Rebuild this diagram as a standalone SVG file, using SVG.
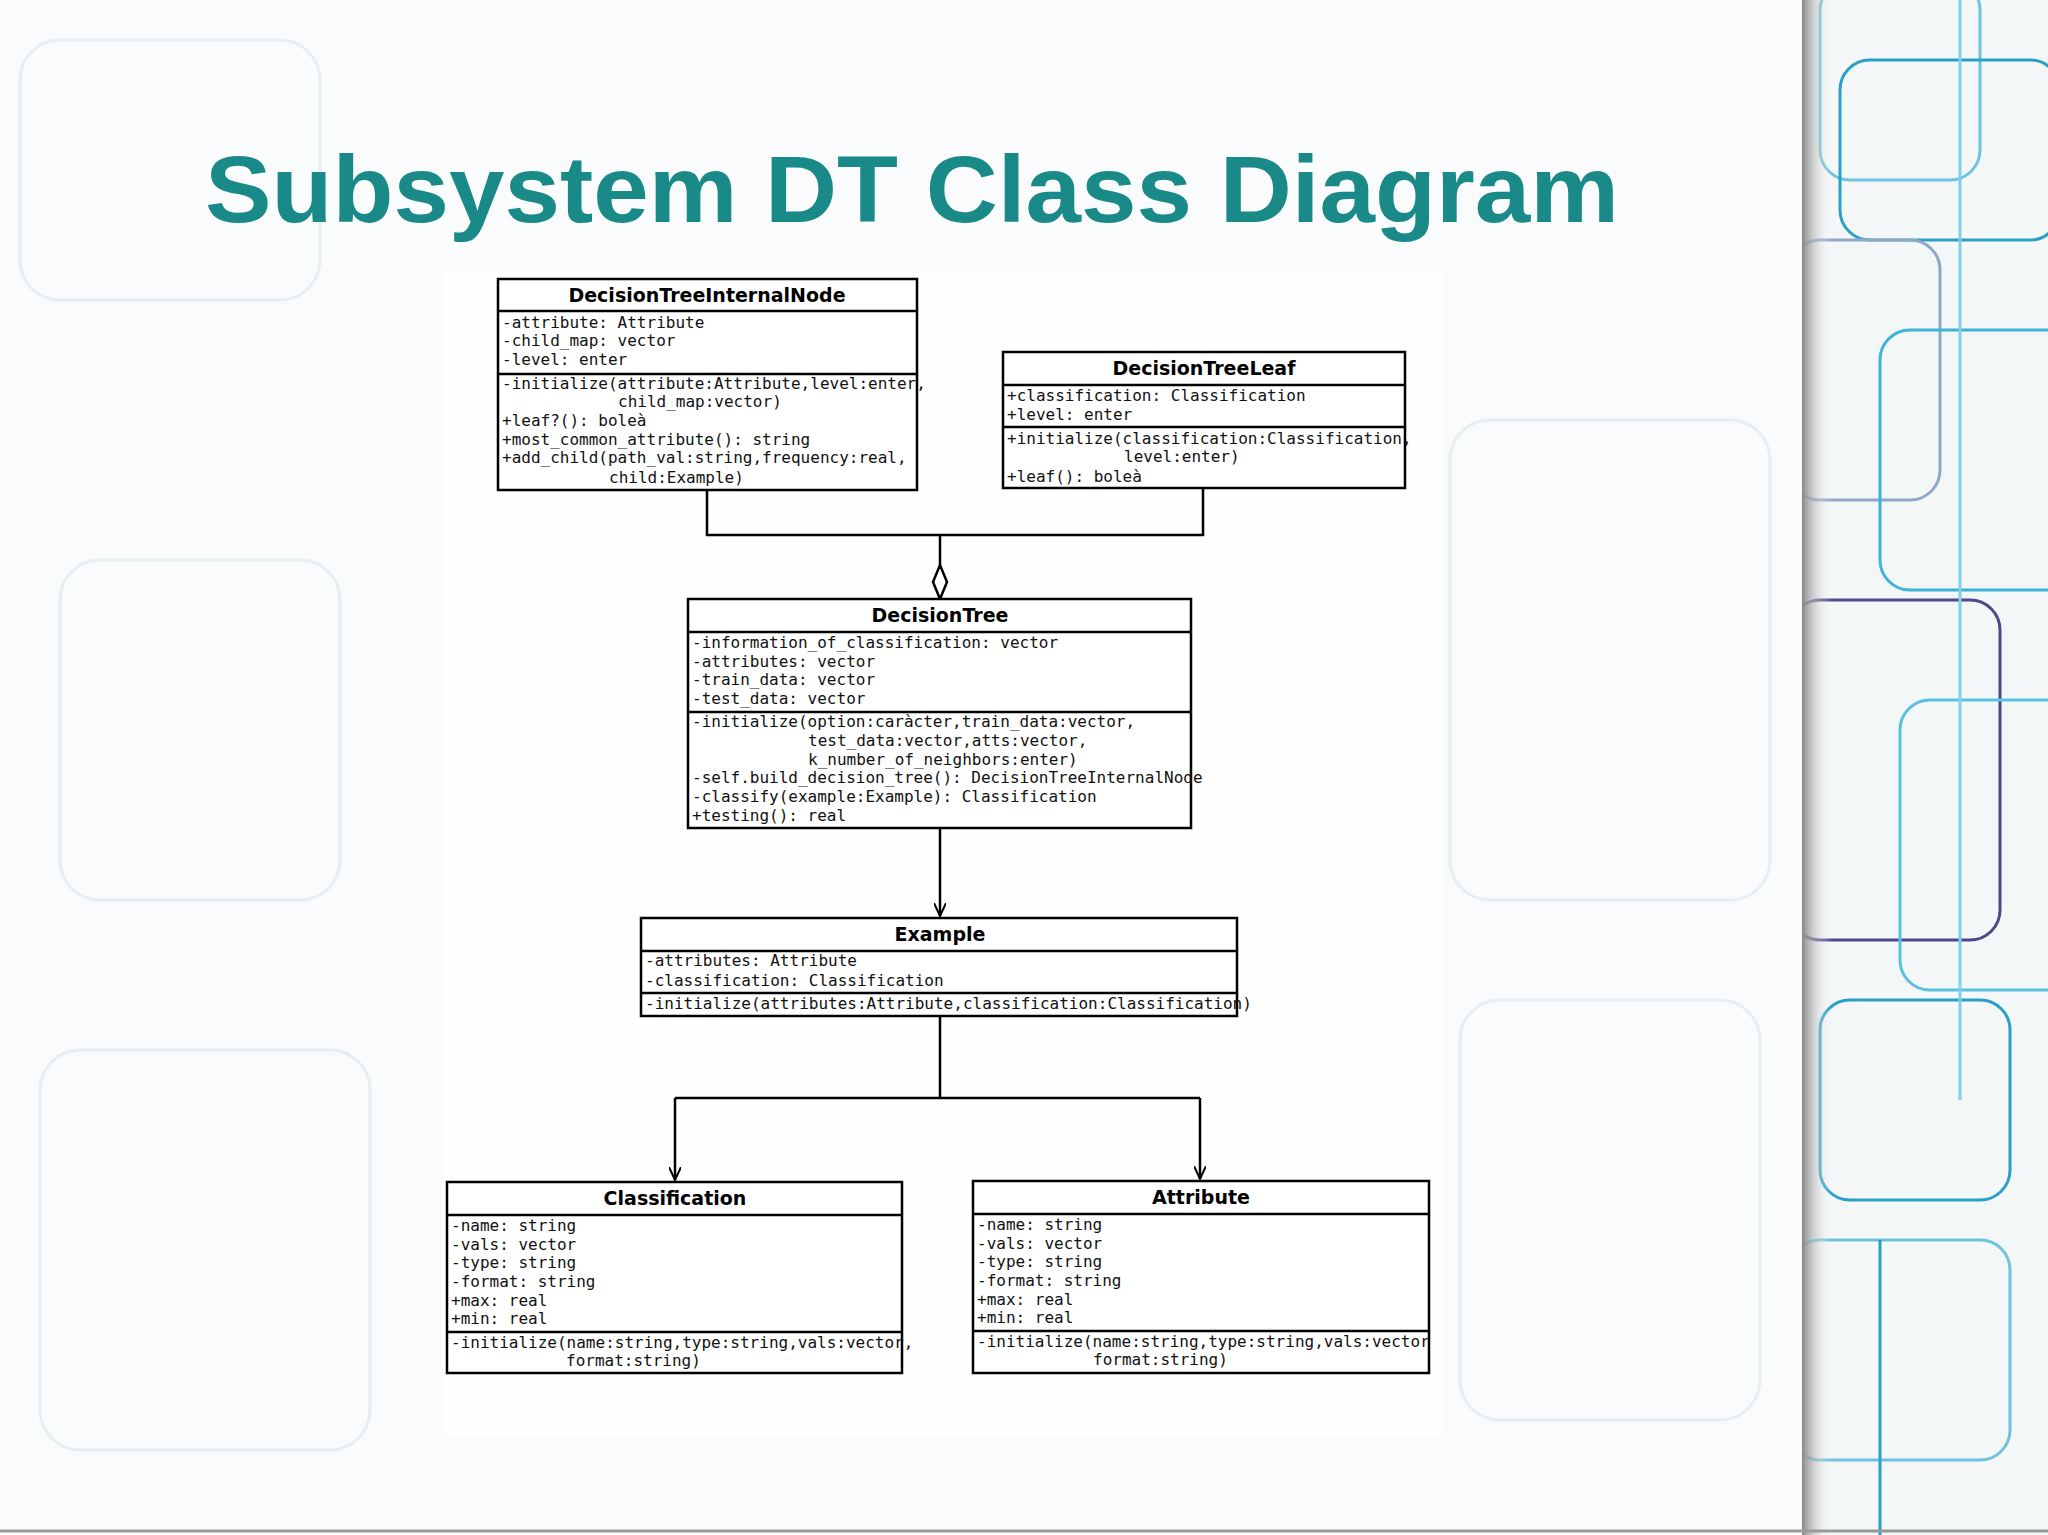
<svg xmlns="http://www.w3.org/2000/svg" width="2048" height="1535" viewBox="0 0 2048 1535">
<defs>
<style>
.bx{fill:#fff;stroke:#000;stroke-width:2.5}
.dv{stroke:#000;stroke-width:2.5}
.m{font-family:"DejaVu Sans Mono","Liberation Mono",monospace;font-size:16px;fill:#111}
.h{font-family:"DejaVu Sans","Liberation Sans",sans-serif;font-weight:bold;font-size:19px;text-anchor:middle;fill:#000}
.c{fill:none;stroke:#000;stroke-width:2.5}
.bg{fill:none;stroke:#e6eff2;stroke-width:3}
.bl{fill:none;stroke-width:3}
</style>
<linearGradient id="sh" x1="0" x2="1" y1="0" y2="0">
<stop offset="0" stop-color="#888"/><stop offset="1" stop-color="#fff" stop-opacity="0"/>
</linearGradient>
<clipPath id="rc"><rect x="1802" y="0" width="246" height="1535"/></clipPath>
<marker id="ar" viewBox="0 0 14 12" refX="13" refY="6" markerWidth="14" markerHeight="12" markerUnits="userSpaceOnUse" orient="auto">
<path d="M0,0 L13,6 L0,12" fill="none" stroke="#000" stroke-width="2"/>
</marker>
</defs>
<rect width="2048" height="1535" fill="#f9fbfc"/>
<g id="background">
<rect x="20" y="40" width="300" height="260" rx="40" class="bg"/>
<rect x="60" y="560" width="280" height="340" rx="40" class="bg"/>
<rect x="40" y="1050" width="330" height="400" rx="40" class="bg"/>
<rect x="1450" y="420" width="320" height="480" rx="40" class="bg"/>
<rect x="1460" y="1000" width="300" height="420" rx="40" class="bg"/>
<rect x="443" y="272" width="1000" height="1165" fill="#fff" opacity="0.8"/>
<rect x="1802" y="0" width="246" height="1535" fill="#f4f7f8"/>
<g clip-path="url(#rc)">
<rect x="1820" y="-20" width="160" height="200" rx="30" class="bl" stroke="#6fc3dc"/>
<rect x="1840" y="60" width="220" height="180" rx="30" class="bl" stroke="#2aa0c8"/>
<rect x="1790" y="240" width="150" height="260" rx="30" class="bl" stroke="#8fa8c8"/>
<rect x="1880" y="330" width="200" height="260" rx="30" class="bl" stroke="#3fb4d8"/>
<rect x="1790" y="600" width="210" height="340" rx="30" class="bl" stroke="#4a4a8a"/>
<rect x="1900" y="700" width="180" height="290" rx="30" class="bl" stroke="#59c0e0"/>
<rect x="1820" y="1000" width="190" height="200" rx="30" class="bl" stroke="#2aa0c8"/>
<rect x="1790" y="1240" width="220" height="220" rx="30" class="bl" stroke="#6fc3dc"/>
<line x1="1880" y1="1240" x2="1880" y2="1535" stroke="#2aa0c8" stroke-width="3"/>
<line x1="1960" y1="0" x2="1960" y2="1100" stroke="#7fd0e8" stroke-width="3"/>
</g>
<rect x="1802" y="0" width="30" height="1535" fill="url(#sh)"/>
<line x1="0" y1="1531" x2="2048" y2="1531" stroke="#999" stroke-width="3"/>
</g>
<text x="205" y="222" font-family="Liberation Sans,Arial,sans-serif" font-weight="bold" font-size="94" fill="#1a8a88" textLength="1414" lengthAdjust="spacingAndGlyphs">Subsystem DT Class Diagram</text>
<g id="connectors">
<path class="c" d="M707,490 V535 H1203 V488"/>
<path class="c" d="M940,535 V565"/>
<path d="M940,565 L947,582 L940,599 L933,582 Z" fill="#fff" stroke="#000" stroke-width="2.5"/>
<path class="c" d="M940,828 V916" marker-end="url(#ar)"/>
<path class="c" d="M940,1016 V1098 M675,1098 H1200"/>
<path class="c" d="M675,1098 V1180" marker-end="url(#ar)"/>
<path class="c" d="M1200,1098 V1179" marker-end="url(#ar)"/>
</g>
<g id="DecisionTreeInternalNode">
<rect class="bx" x="498" y="279" width="419" height="211"/>
<line class="dv" x1="498" y1="311" x2="917" y2="311"/><line class="dv" x1="498" y1="374" x2="917" y2="374"/>
<text class="h" x="707" y="302">DecisionTreeInternalNode</text>
<text class="m" x="502" y="328">-attribute: Attribute</text>
<text class="m" x="502" y="346">-child_map: vector</text>
<text class="m" x="502" y="365">-level: enter</text>
<text class="m" x="502" y="389">-initialize(attribute:Attribute,level:enter,</text>
<text class="m" x="618" y="407">child_map:vector)</text>
<text class="m" x="502" y="426">+leaf?(): boleà</text>
<text class="m" x="502" y="445">+most_common_attribute(): string</text>
<text class="m" x="502" y="463">+add_child(path_val:string,frequency:real,</text>
<text class="m" x="609" y="483">child:Example)</text>
</g>
<g id="DecisionTreeLeaf">
<rect class="bx" x="1003" y="352" width="402" height="136"/>
<line class="dv" x1="1003" y1="385" x2="1405" y2="385"/><line class="dv" x1="1003" y1="427" x2="1405" y2="427"/>
<text class="h" x="1204" y="375">DecisionTreeLeaf</text>
<text class="m" x="1007" y="401">+classification: Classification</text>
<text class="m" x="1007" y="420">+level: enter</text>
<text class="m" x="1007" y="444">+initialize(classification:Classification,</text>
<text class="m" x="1124" y="462">level:enter)</text>
<text class="m" x="1007" y="482">+leaf(): boleà</text>
</g>
<g id="DecisionTree">
<rect class="bx" x="688" y="599" width="503" height="229"/>
<line class="dv" x1="688" y1="632" x2="1191" y2="632"/><line class="dv" x1="688" y1="712" x2="1191" y2="712"/>
<text class="h" x="940" y="622">DecisionTree</text>
<text class="m" x="692" y="648">-information_of_classification: vector</text>
<text class="m" x="692" y="667">-attributes: vector</text>
<text class="m" x="692" y="685">-train_data: vector</text>
<text class="m" x="692" y="704">-test_data: vector</text>
<text class="m" x="692" y="727">-initialize(option:caràcter,train_data:vector,</text>
<text class="m" x="808" y="746">test_data:vector,atts:vector,</text>
<text class="m" x="808" y="765">k_number_of_neighbors:enter)</text>
<text class="m" x="692" y="783">-self.build_decision_tree(): DecisionTreeInternalNode</text>
<text class="m" x="692" y="802">-classify(example:Example): Classification</text>
<text class="m" x="692" y="821">+testing(): real</text>
</g>
<g id="Example">
<rect class="bx" x="641" y="918" width="596" height="98"/>
<line class="dv" x1="641" y1="951" x2="1237" y2="951"/><line class="dv" x1="641" y1="993" x2="1237" y2="993"/>
<text class="h" x="940" y="941">Example</text>
<text class="m" x="645" y="966">-attributes: Attribute</text>
<text class="m" x="645" y="986">-classification: Classification</text>
<text class="m" x="645" y="1009">-initialize(attributes:Attribute,classification:Classification)</text>
</g>
<g id="Classification">
<rect class="bx" x="447" y="1182" width="455" height="191"/>
<line class="dv" x1="447" y1="1215" x2="902" y2="1215"/><line class="dv" x1="447" y1="1332" x2="902" y2="1332"/>
<text class="h" x="675" y="1205">Classification</text>
<text class="m" x="451" y="1231">-name: string</text>
<text class="m" x="451" y="1250">-vals: vector</text>
<text class="m" x="451" y="1268">-type: string</text>
<text class="m" x="451" y="1287">-format: string</text>
<text class="m" x="451" y="1306">+max: real</text>
<text class="m" x="451" y="1324">+min: real</text>
<text class="m" x="451" y="1348">-initialize(name:string,type:string,vals:vector,</text>
<text class="m" x="566" y="1366">format:string)</text>
</g>
<g id="Attribute">
<rect class="bx" x="973" y="1181" width="456" height="192"/>
<line class="dv" x1="973" y1="1214" x2="1429" y2="1214"/><line class="dv" x1="973" y1="1331" x2="1429" y2="1331"/>
<text class="h" x="1201" y="1204">Attribute</text>
<text class="m" x="977" y="1230">-name: string</text>
<text class="m" x="977" y="1249">-vals: vector</text>
<text class="m" x="977" y="1267">-type: string</text>
<text class="m" x="977" y="1286">-format: string</text>
<text class="m" x="977" y="1305">+max: real</text>
<text class="m" x="977" y="1323">+min: real</text>
<text class="m" x="977" y="1347">-initialize(name:string,type:string,vals:vector</text>
<text class="m" x="1093" y="1365">format:string)</text>
</g>
</svg>
